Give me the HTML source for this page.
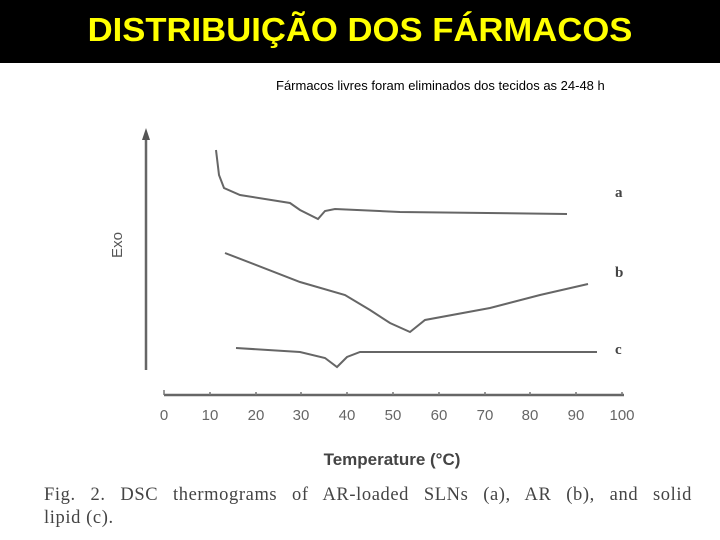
<!DOCTYPE html>
<html><head><meta charset="utf-8"><style>
body{margin:0;width:720px;height:540px;background:#fff;overflow:hidden;position:relative;font-family:"Liberation Sans",sans-serif}
.bar{position:absolute;left:0;top:0;width:720px;height:63px;background:#000}
.t{position:absolute;left:0;width:720px;top:11px;text-align:center;color:#ffff00;font-weight:bold;font-size:33px;transform:scaleX(1.05)}
.sub{position:absolute;left:276px;top:78px;font-size:13px;color:#000}
.cap{position:absolute;left:44px;width:648px;font-family:"Liberation Serif",serif;font-size:18.5px;letter-spacing:0.6px;color:#444}
.j{text-align:justify;text-align-last:justify}
</style></head><body>
<div class="bar"><div class="t">DISTRIBUIÇÃO DOS FÁRMACOS</div></div>
<div class="sub">Fármacos livres foram eliminados dos tecidos as 24-48 h</div>
<svg width="720" height="540" style="position:absolute;left:0;top:0">
<g stroke="#666" stroke-width="2.5" fill="none">
<line x1="146" y1="138" x2="146" y2="370"/>
<line x1="164" y1="395" x2="624" y2="395"/>
</g>
<polygon points="146,128 142,140 150,140" fill="#555"/>
<g stroke="#777" stroke-width="1.5">
<line x1="164" y1="390" x2="164" y2="395"/><line x1="210" y1="392" x2="210" y2="395"/><line x1="256" y1="392" x2="256" y2="395"/><line x1="301" y1="392" x2="301" y2="395"/><line x1="347" y1="392" x2="347" y2="395"/><line x1="393" y1="392" x2="393" y2="395"/><line x1="439" y1="392" x2="439" y2="395"/><line x1="485" y1="392" x2="485" y2="395"/><line x1="530" y1="392" x2="530" y2="395"/><line x1="576" y1="392" x2="576" y2="395"/><line x1="622" y1="392" x2="622" y2="395"/>
</g>
<g fill="#666" font-size="15" text-anchor="middle" font-family="Liberation Sans,sans-serif">
<text x="164" y="420">0</text><text x="210" y="420">10</text><text x="256" y="420">20</text><text x="301" y="420">30</text><text x="347" y="420">40</text><text x="393" y="420">50</text><text x="439" y="420">60</text><text x="485" y="420">70</text><text x="530" y="420">80</text><text x="576" y="420">90</text><text x="622" y="420">100</text>
</g>
<text x="392" y="465" text-anchor="middle" font-size="17" font-weight="bold" fill="#444">Temperature (°C)</text>
<text x="122" y="245" transform="rotate(-90 122 245)" text-anchor="middle" font-size="15" fill="#555">Exo</text>
<g stroke="#666" stroke-width="2" fill="none">
<path d="M216,150 L219,175 L224,188 L240,195 L290,203 L300,210 L318,219 L325,211 L335,209 L400,212 L567,214"/>
<path d="M225,253 L300,282 L345,295 L370,310 L390,323 L410,332 L425,320 L490,308 L540,295 L588,284"/>
<path d="M236,348 L300,352 L325,358 L337,367 L347,357 L360,352 L597,352"/>
</g>
<g font-family="Liberation Serif,serif" font-weight="bold" font-size="15" fill="#444">
<text x="615" y="197">a</text><text x="615" y="277">b</text><text x="615" y="354">c</text>
</g>
</svg>
<div class="cap j" style="top:485px">Fig. 2. DSC thermograms of AR-loaded SLNs (a), AR (b), and solid</div>
<div class="cap" style="top:508px">lipid (c).</div>
</body></html>
